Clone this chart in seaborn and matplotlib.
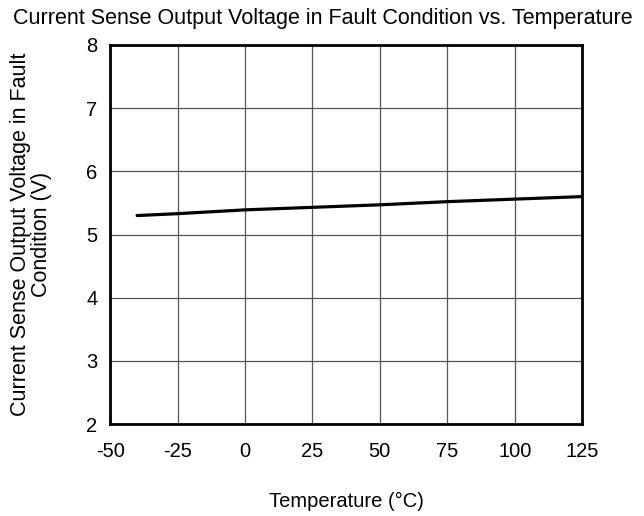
import numpy as np
import matplotlib
matplotlib.use("Agg")
import matplotlib.pyplot as plt
import pandas as pd
import seaborn as sns

temperature = [-40, -25, 0, 25, 50, 75, 100, 125]
voltage = [5.30, 5.33, 5.39, 5.43, 5.47, 5.52, 5.56, 5.60]
x_ticks = [-50, -25, 0, 25, 50, 75, 100, 125]
y_ticks = [2, 3, 4, 5, 6, 7, 8]

sns.set_theme(style="white")
plt.rcParams['font.family'] = ['Liberation Sans', 'DejaVu Sans']
plt.rcParams['axes.unicode_minus'] = False

df = pd.DataFrame({"Temperature": temperature, "Voltage": voltage})

fig = plt.figure(figsize=(6.44, 5.16), dpi=100)
ax = fig.add_axes([0.171, 0.178, 0.733, 0.735])

sns.lineplot(data=df, x="Temperature", y="Voltage", ax=ax, color="black", linewidth=2.3)

ax.set_xlim(-50, 125)
ax.set_ylim(2, 8)
ax.set_xticks(x_ticks)
ax.set_yticks(y_ticks)
ax.tick_params(axis="x", length=0, labelsize=14.5, colors="black", pad=13)
ax.tick_params(axis="y", length=0, labelsize=14.5, colors="black", pad=9)
ax.grid(True, color="#555555", linewidth=0.9)
for s in ax.spines.values():
    s.set_color("black")
    s.set_linewidth(2)

ax.set_xlabel("Temperature (°C)", fontsize=14.5, labelpad=22, color="black")
ax.set_ylabel("Current Sense Output Voltage in Fault\nCondition (V)", fontsize=15.5,
              labelpad=25, color="black", linespacing=1.0)
fig.text(0.502, 0.985, "Current Sense Output Voltage in Fault Condition vs. Temperature",
         ha="center", va="top", fontsize=15.5, color="black")

fig.savefig("out.png", dpi=100)
